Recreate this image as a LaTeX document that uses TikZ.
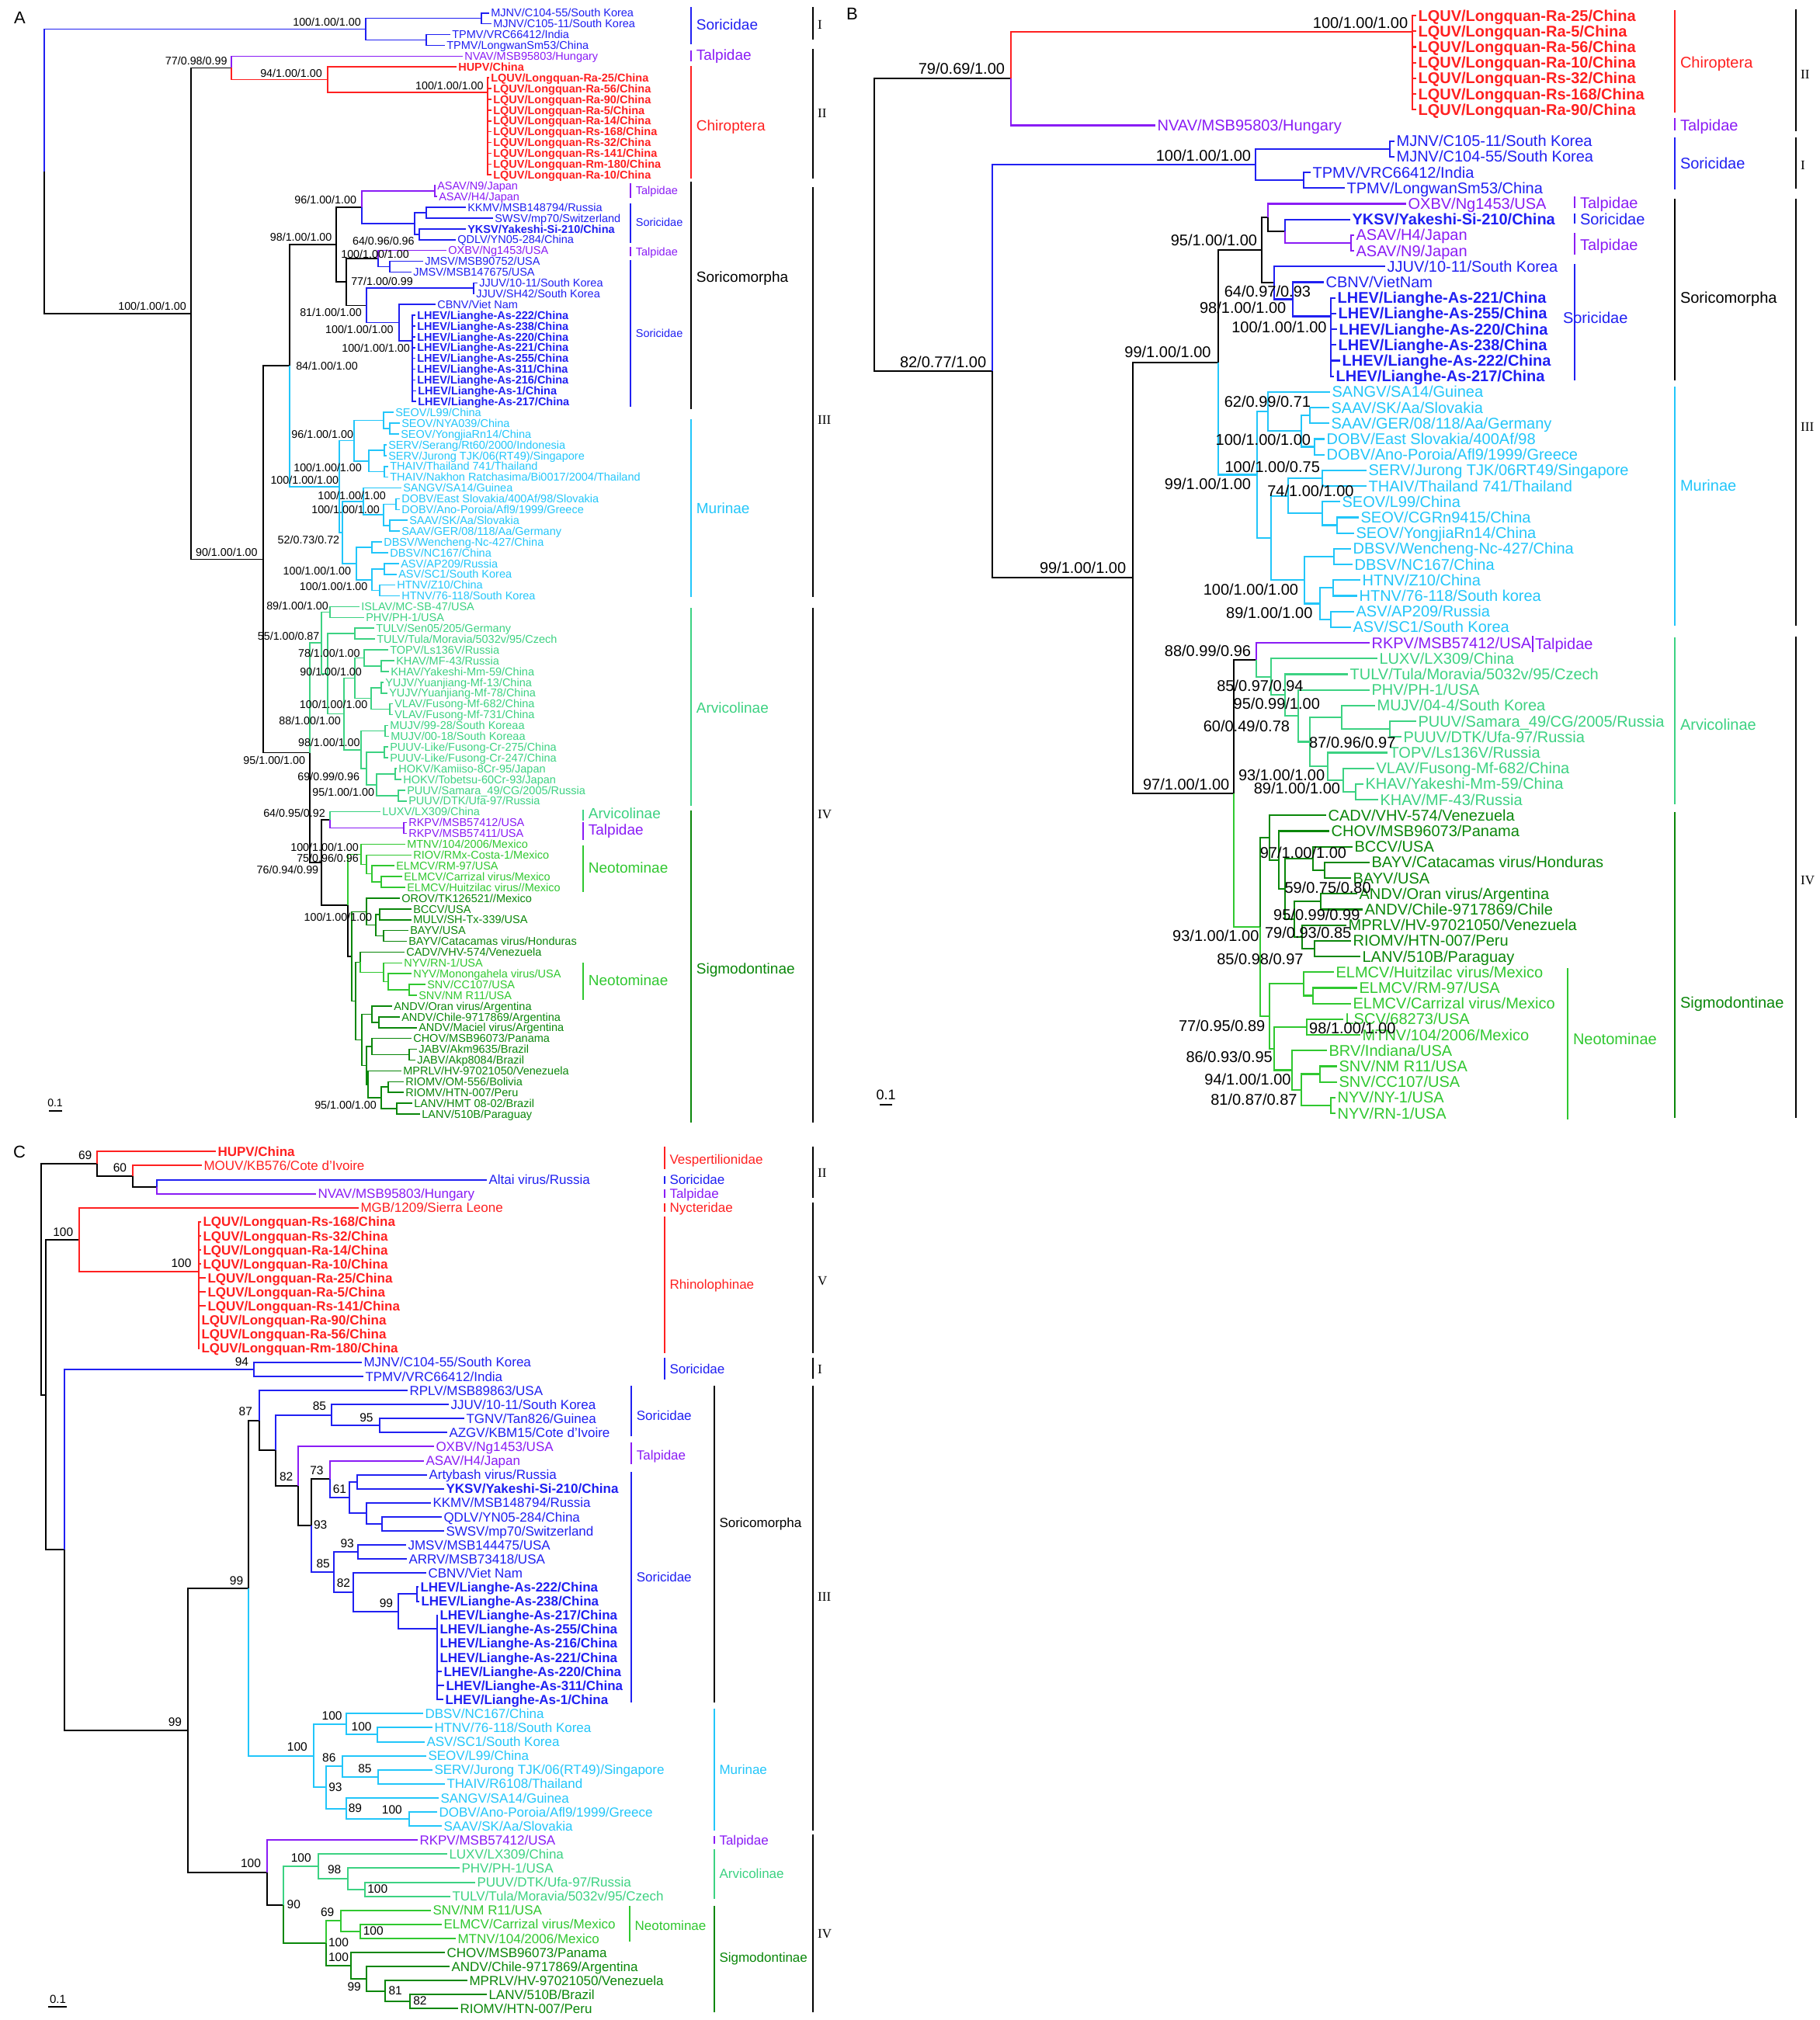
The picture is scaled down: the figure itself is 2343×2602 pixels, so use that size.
\documentclass[tikz,border=0pt]{standalone}
\usepackage{fontspec}
\setmainfont{Liberation Sans}
\newfontfamily\romfont{Liberation Serif}
\usetikzlibrary{calc}
\definecolor{csor}{HTML}{2020F2}
\definecolor{ctal}{HTML}{8A1CF5}
\definecolor{cchi}{HTML}{FF2020}
\definecolor{cmur}{HTML}{22C6FA}
\definecolor{carv}{HTML}{3CD282}
\definecolor{cneo}{HTML}{30C830}
\definecolor{csig}{HTML}{0A870A}
\colorlet{blk}{black}
\newcommand\fs[1]{\fontsize{#1}{#1}\selectfont}
\newcounter{lbn}
\newcommand\ed[3]{\draw[#1] (#2) |- (#3);}
\newcommand\eed[4]{\ed{#1}{#2}{#3}\ed{#1}{#2}{#4}}
\newcommand\tnd[4]{\path ($(#3)!0.5!(#4)$) coordinate (tmpm) (#2,0) coordinate (tmpx); \coordinate (#1) at (tmpm -| tmpx);}
\newcommand\tndm[3]{\coordinate (#1) at (#2,#3);}
\newcommand\lfa[4]{\coordinate (a#1) at (#2,{16.7+13.905*#1}); \node[leafA,#3] (a#1t) at (a#1) {#4};}
\newcommand\lfb[4]{\coordinate (b#1) at (#2,{20+20.2*#1}); \node[leafB,#3] (b#1t) at (b#1) {#4};}
\newcommand\lfc[4]{\coordinate (c#1) at (#2,{1483.3+18.1*#1}); \node[leafC,#3] (c#1t) at (c#1) {#4};}
\newcommand\spv[4]{\stepcounter{lbn}\node[#1] (s\thelbn) at (#2,#3) {#4};}
\newcommand\sa[3]{\spv{suppA}{#1}{#2}{#3}}
\newcommand\sbb[3]{\spv{suppB}{#1}{#2}{#3}}
\newcommand\scc[3]{\spv{suppC}{#1}{#2}{#3}}
\newcommand\cbar[7]{\stepcounter{lbn}\draw[#1] (#2,#3) -- (#2,#4); \node[#5,#1,anchor=west] (s\thelbn) at ({#2+6},#7) {#6};}
\newcommand\rbar[5]{\stepcounter{lbn}\draw[blk,line width=2.4pt] (#1,#2) -- (#1,#3); \node[rom,anchor=west] (s\thelbn) at ({#1+6},#4) {#5};}
\tikzset{
 leafA/.style={anchor=west,inner sep=1.5pt,font=\fs{14.5},text height=10.4pt,text depth=0pt},
 leafB/.style={anchor=west,inner sep=1.5pt,font=\fs{20},text height=14.3pt,text depth=0pt},
 leafC/.style={anchor=west,inner sep=1.5pt,font=\fs{17},text height=12.2pt,text depth=0pt},
 bA/.style={font=\fs{14.5}\bfseries},
 bB/.style={font=\fs{20}\bfseries},
 bC/.style={font=\fs{17}\bfseries},
 suppA/.style={anchor=east,inner sep=0pt,font=\fs{14.3},text height=10.2pt,text depth=0pt},
 suppB/.style={anchor=east,inner sep=0pt,font=\fs{20},text height=14.3pt,text depth=0pt},
 suppC/.style={anchor=east,inner sep=0pt,font=\fs{15.5},text height=11pt,text depth=0pt},
 cladeA/.style={inner sep=0pt,font=\fs{19},text height=13.6pt,text depth=0pt},
 cladeAs/.style={inner sep=0pt,font=\fs{14.5},text height=10.4pt,text depth=0pt},
 cladeB/.style={inner sep=0pt,font=\fs{20},text height=14.3pt,text depth=0pt},
 cladeC/.style={inner sep=0pt,font=\fs{17},text height=12.2pt,text depth=0pt},
 rom/.style={inner sep=0pt,font=\romfont\fs{17},text height=11pt,text depth=0pt},
 plab/.style={inner sep=0pt,anchor=west,font=\fs{22}},
}
\begin{document}
\begin{tikzpicture}[x=1pt,y=-1pt]
\useasboundingbox (0,0) rectangle (2343,2602);
\fill[white] (0,0) rectangle (2343,2602);

%%%%%%%%%%%%%%%%%%%%%%%%%%%% PANEL A
\node[plab] (pA) at (18,23) {A};
\begin{scope}[line width=1.6pt]
\lfa{0}{630}{csor}{MJNV/C104-55/South Korea}
\lfa{1}{633}{csor}{MJNV/C105-11/South Korea}
\lfa{2}{580}{csor}{TPMV/VRC66412/India}
\lfa{3}{573}{csor}{TPMV/LongwanSm53/China}
\lfa{4}{596}{ctal}{NVAV/MSB95803/Hungary}
\lfa{5}{588}{cchi,bA}{HUPV/China}
\lfa{6}{630}{cchi,bA}{LQUV/Longquan-Ra-25/China}
\lfa{7}{633}{cchi,bA}{LQUV/Longquan-Ra-56/China}
\lfa{8}{633}{cchi,bA}{LQUV/Longquan-Ra-90/China}
\lfa{9}{633}{cchi,bA}{LQUV/Longquan-Ra-5/China}
\lfa{10}{633}{cchi,bA}{LQUV/Longquan-Ra-14/China}
\lfa{11}{633}{cchi,bA}{LQUV/Longquan-Rs-168/China}
\lfa{12}{633}{cchi,bA}{LQUV/Longquan-Rs-32/China}
\lfa{13}{633}{cchi,bA}{LQUV/Longquan-Rs-141/China}
\lfa{14}{633}{cchi,bA}{LQUV/Longquan-Rm-180/China}
\lfa{15}{633}{cchi,bA}{LQUV/Longquan-Ra-10/China}
\lfa{16}{561}{ctal}{ASAV/N9/Japan}
\lfa{17}{563}{ctal}{ASAV/H4/Japan}
\lfa{18}{600}{csor}{KKMV/MSB148794/Russia}
\lfa{19}{635}{csor}{SWSV/mp70/Switzerland}
\lfa{20}{600}{csor,bA}{YKSV/Yakeshi-Si-210/China}
\lfa{21}{587}{csor}{QDLV/YN05-284/China}
\lfa{22}{575}{ctal}{OXBV/Ng1453/USA}
\lfa{23}{545}{csor}{JMSV/MSB90752/USA}
\lfa{24}{530}{csor}{JMSV/MSB147675/USA}
\lfa{25}{615}{csor}{JJUV/10-11/South Korea}
\lfa{26}{611}{csor}{JJUV/SH42/South Korea}
\lfa{27}{561}{csor}{CBNV/Viet Nam}
\lfa{28}{535}{csor,bA}{LHEV/Lianghe-As-222/China}
\lfa{29}{535}{csor,bA}{LHEV/Lianghe-As-238/China}
\lfa{30}{535}{csor,bA}{LHEV/Lianghe-As-220/China}
\lfa{31}{535}{csor,bA}{LHEV/Lianghe-As-221/China}
\lfa{32}{535}{csor,bA}{LHEV/Lianghe-As-255/China}
\lfa{33}{535}{csor,bA}{LHEV/Lianghe-As-311/China}
\lfa{34}{535}{csor,bA}{LHEV/Lianghe-As-216/China}
\lfa{35}{536}{csor,bA}{LHEV/Lianghe-As-1/China}
\lfa{36}{536}{csor,bA}{LHEV/Lianghe-As-217/China}
\lfa{37}{507}{cmur}{SEOV/L99/China}
\lfa{38}{515}{cmur}{SEOV/NYA039/China}
\lfa{39}{514}{cmur}{SEOV/YongjiaRn14/China}
\lfa{40}{498}{cmur}{SERV/Serang/Rt60/2000/Indonesia}
\lfa{41}{498}{cmur}{SERV/Jurong TJK/06(RT49)/Singapore}
\lfa{42}{500}{cmur}{THAIV/Thailand 741/Thailand}
\lfa{43}{500}{cmur}{THAIV/Nakhon Ratchasima/Bi0017/2004/Thailand}
\lfa{44}{517}{cmur}{SANGV/SA14/Guinea}
\lfa{45}{515}{cmur}{DOBV/East Slovakia/400Af/98/Slovakia}
\lfa{46}{515}{cmur}{DOBV/Ano-Poroia/Afl9/1999/Greece}
\lfa{47}{525}{cmur}{SAAV/SK/Aa/Slovakia}
\lfa{48}{515}{cmur}{SAAV/GER/08/118/Aa/Germany}
\lfa{49}{492}{cmur}{DBSV/Wencheng-Nc-427/China}
\lfa{50}{500}{cmur}{DBSV/NC167/China}
\lfa{51}{514}{cmur}{ASV/AP209/Russia}
\lfa{52}{511}{cmur}{ASV/SC1/South Korea}
\lfa{53}{509}{cmur}{HTNV/Z10/China}
\lfa{54}{515}{cmur}{HTNV/76-118/South Korea}
\lfa{55}{463}{carv}{ISLAV/MC-SB-47/USA}
\lfa{56}{469}{carv}{PHV/PH-1/USA}
\lfa{57}{482}{carv}{TULV/Sen05/205/Germany}
\lfa{58}{483}{carv}{TULV/Tula/Moravia/5032v/95/Czech}
\lfa{59}{500}{carv}{TOPV/Ls136V/Russia}
\lfa{60}{508}{carv}{KHAV/MF-43/Russia}
\lfa{61}{501}{carv}{KHAV/Yakeshi-Mm-59/China}
\lfa{62}{494}{carv}{YUJV/Yuanjiang-Mf-13/China}
\lfa{63}{499}{carv}{YUJV/Yuanjiang-Mf-78/China}
\lfa{64}{506}{carv}{VLAV/Fusong-Mf-682/China}
\lfa{65}{506}{carv}{VLAV/Fusong-Mf-731/China}
\lfa{66}{500}{carv}{MUJV/99-28/South Koreaa}
\lfa{67}{501}{carv}{MUJV/00-18/South Koreaa}
\lfa{68}{500}{carv}{PUUV-Like/Fusong-Cr-275/China}
\lfa{69}{500}{carv}{PUUV-Like/Fusong-Cr-247/China}
\lfa{70}{511}{carv}{HOKV/Kamiiso-8Cr-95/Japan}
\lfa{71}{517}{carv}{HOKV/Tobetsu-60Cr-93/Japan}
\lfa{72}{522}{carv}{PUUV/Samara\_49/CG/2005/Russia}
\lfa{73}{524}{carv}{PUUV/DTK/Ufa-97/Russia}
\lfa{74}{490}{carv}{LUXV/LX309/China}
\lfa{75}{524}{ctal}{RKPV/MSB57412/USA}
\lfa{76}{524}{ctal}{RKPV/MSB57411/USA}
\lfa{77}{522}{cneo}{MTNV/104/2006/Mexico}
\lfa{78}{530}{cneo}{RIOV/RMx-Costa-1/Mexico}
\lfa{79}{508}{cneo}{ELMCV/RM-97/USA}
\lfa{80}{518}{cneo}{ELMCV/Carrizal virus/Mexico}
\lfa{81}{522}{cneo}{ELMCV/Huitzilac virus//Mexico}
\lfa{82}{515}{csig}{OROV/TK126521//Mexico}
\lfa{83}{530}{csig}{BCCV/USA}
\lfa{84}{530}{csig}{MULV/SH-Tx-339/USA}
\lfa{85}{526}{csig}{BAYV/USA}
\lfa{86}{524}{csig}{BAYV/Catacamas virus/Honduras}
\lfa{87}{521}{csig}{CADV/VHV-574/Venezuela}
\lfa{88}{518}{cneo}{NYV/RN-1/USA}
\lfa{89}{530}{cneo}{NYV/Monongahela virus/USA}
\lfa{90}{548}{cneo}{SNV/CC107/USA}
\lfa{91}{537}{cneo}{SNV/NM R11/USA}
\lfa{92}{505}{csig}{ANDV/Oran virus/Argentina}
\lfa{93}{515}{csig}{ANDV/Chile-9717869/Argentina}
\lfa{94}{537}{csig}{ANDV/Maciel virus/Argentina}
\lfa{95}{530}{csig}{CHOV/MSB96073/Panama}
\lfa{96}{537}{csig}{JABV/Akm9635/Brazil}
\lfa{97}{535}{csig}{JABV/Akp8084/Brazil}
\lfa{98}{517}{csig}{MPRLV/HV-97021050/Venezuela}
\lfa{99}{520}{csig}{RIOMV/OM-556/Bolivia}
\lfa{100}{520}{csig}{RIOMV/HTN-007/Peru}
\lfa{101}{531}{csig}{LANV/HMT 08-02/Brazil}
\lfa{102}{541}{csig}{LANV/510B/Paraguay}
% internal nodes A
\tnd{aMJ}{620}{a0}{a1}
\tnd{aTP}{549}{a2}{a3}
\tnd{aI}{471}{aMJ}{aTP}
\tndm{aLQ}{628}{119}
\tnd{aChi}{422}{a5}{aLQ}
\tnd{aII}{298}{a4}{aChi}
\tnd{aAS}{560}{a16}{a17}
\tnd{aKS}{549}{a18}{a19}
\tnd{aYQ}{540}{a20}{a21}
\tnd{aSo1}{534}{aKS}{aYQ}
\tnd{aN96}{466}{aAS}{aSo1}
\tnd{aJM}{502}{a23}{a24}
\tnd{aN100}{487}{a22}{aJM}
\tnd{aJJ}{610}{a25}{a26}
\tndm{aLH}{531}{439}
\tnd{aCL}{514}{a27}{aLH}
\tnd{aN81}{472}{aJJ}{aCL}
\tnd{aN77}{446}{aN100}{aN81}
\tnd{aSor}{433}{aN96}{aN77}
\tnd{aSE2}{502}{a38}{a39}
\tnd{aSE}{494}{a37}{aSE2}
\tnd{aSR}{495}{a40}{a41}
\tnd{aTH}{495}{a42}{a43}
\tnd{aST}{475}{aSR}{aTH}
\tnd{aM1}{456}{aSE}{aST}
\tnd{aDO}{510}{a45}{a46}
\tnd{aSA}{502}{a47}{a48}
\tnd{aDS}{494}{aDO}{aSA}
\tnd{aSDS}{468}{a44}{aDS}
\tnd{aDB}{479}{a49}{a50}
\tnd{aASV}{495}{a51}{a52}
\tnd{aHT}{489}{a53}{a54}
\tnd{aAH}{479}{aASV}{aHT}
\tnd{aDAH}{459}{aDB}{aAH}
\tnd{aM2}{441}{aSDS}{aDAH}
\tnd{aM0}{437}{aM1}{aM2}
\tnd{aSM}{373}{aSor}{aM0}
\tnd{aIP}{425}{a55}{a56}
\tnd{aTU}{457}{a57}{a58}
\tnd{aKH}{491}{a60}{a61}
\tnd{aTK}{469}{a59}{aKH}
\tnd{aYU}{491}{a62}{a63}
\tnd{aVL}{502}{a64}{a65}
\tnd{aYV}{478}{aYU}{aVL}
\tnd{aN90}{457}{aTK}{aYV}
\tnd{aMU}{496}{a66}{a67}
\tnd{aPL}{495}{a68}{a69}
\tnd{aHO}{509}{a70}{a71}
\tnd{aPU}{513}{a72}{a73}
\tnd{aHP}{485}{aHO}{aPU}
\tnd{aN69}{472}{aPL}{aHP}
\tnd{aN98}{465}{aMU}{aN69}
\tnd{aA2}{443}{aN90}{aN98}
\tnd{aA1}{422}{aTU}{aA2}
\tnd{aA0}{414}{aIP}{aA1}
\tnd{aRK}{520}{a75}{a76}
\tnd{aLR}{425}{a74}{aRK}
\tnd{aE1}{491}{a80}{a81}
\tnd{aE2}{479}{a79}{aE1}
\tnd{aE3}{472}{a78}{aE2}
\tnd{aE4}{465}{a77}{aE3}
\tnd{aBM}{489}{a83}{a84}
\tnd{aBY}{494}{a85}{a86}
\tnd{aBMB}{484}{aBM}{aBY}
\tnd{aOG}{472}{a82}{aBMB}
\tnd{aSNV}{527}{a90}{a91}
\tnd{aNS2}{500}{a89}{aSNV}
\tnd{aNS1}{494}{a88}{aNS2}
\tnd{aCN}{464}{a87}{aNS1}
\tnd{aCM}{488}{a93}{a94}
\tnd{aAN}{479}{a92}{aCM}
\tnd{aJA}{527}{a96}{a97}
\tnd{aCJ}{479}{a95}{aJA}
\tnd{aRI}{500}{a99}{a100}
\tnd{aLA}{511}{a101}{a102}
\tnd{aRL}{491}{aRI}{aLA}
\tnd{aMRL}{474}{a98}{aRL}
\tnd{aCJM}{472}{aCJ}{aMRL}
\tnd{aAM}{466}{aAN}{aCJM}
\tnd{aS2}{458}{aCN}{aAM}
\tnd{aS}{453}{aOG}{aS2}
\tnd{aY}{448}{aE4}{aS}
\tnd{aX}{414}{aLR}{aY}
\tnd{aN95}{399}{aA0}{aX}
\tnd{aB2}{339}{aSM}{aN95}
\tnd{aB1}{246}{aII}{aB2}
\tnd{aR}{57}{aI}{aB1}
% edges A
\ed{csor}{aR}{aI}\ed{blk}{aR}{aB1}
\eed{csor}{aI}{aMJ}{aTP}\eed{csor}{aMJ}{a0}{a1}\eed{csor}{aTP}{a2}{a3}
\eed{blk}{aB1}{aII}{aB2}
\ed{ctal}{aII}{a4}\ed{cchi}{aII}{aChi}
\eed{cchi}{aChi}{a5}{aLQ}
\foreach \i in {6,...,15}{\ed{cchi}{aLQ}{a\i}}
\eed{blk}{aB2}{aSM}{aN95}
\ed{blk}{aSM}{aSor}\ed{cmur}{aSM}{aM0}
\eed{blk}{aSor}{aN96}{aN77}
\ed{ctal}{aN96}{aAS}\ed{csor}{aN96}{aSo1}
\eed{ctal}{aAS}{a16}{a17}
\eed{csor}{aSo1}{aKS}{aYQ}\eed{csor}{aKS}{a18}{a19}\eed{csor}{aYQ}{a20}{a21}
\eed{blk}{aN77}{aN100}{aN81}
\ed{ctal}{aN100}{a22}\ed{csor}{aN100}{aJM}\eed{csor}{aJM}{a23}{a24}
\eed{csor}{aN81}{aJJ}{aCL}\eed{csor}{aJJ}{a25}{a26}\eed{csor}{aCL}{a27}{aLH}
\foreach \i in {28,...,36}{\ed{csor}{aLH}{a\i}}
\eed{cmur}{aM0}{aM1}{aM2}\eed{cmur}{aM1}{aSE}{aST}\eed{cmur}{aSE}{a37}{aSE2}\eed{cmur}{aSE2}{a38}{a39}
\eed{cmur}{aST}{aSR}{aTH}\eed{cmur}{aSR}{a40}{a41}\eed{cmur}{aTH}{a42}{a43}
\eed{cmur}{aM2}{aSDS}{aDAH}\eed{cmur}{aSDS}{a44}{aDS}\eed{cmur}{aDS}{aDO}{aSA}\eed{cmur}{aDO}{a45}{a46}\eed{cmur}{aSA}{a47}{a48}
\eed{cmur}{aDAH}{aDB}{aAH}\eed{cmur}{aDB}{a49}{a50}\eed{cmur}{aAH}{aASV}{aHT}\eed{cmur}{aASV}{a51}{a52}\eed{cmur}{aHT}{a53}{a54}
\ed{carv}{aN95}{aA0}\ed{blk}{aN95}{aX}
\eed{carv}{aA0}{aIP}{aA1}\eed{carv}{aIP}{a55}{a56}\eed{carv}{aA1}{aTU}{aA2}\eed{carv}{aTU}{a57}{a58}
\eed{carv}{aA2}{aN90}{aN98}\eed{carv}{aN90}{aTK}{aYV}\eed{carv}{aTK}{a59}{aKH}\eed{carv}{aKH}{a60}{a61}
\eed{carv}{aYV}{aYU}{aVL}\eed{carv}{aYU}{a62}{a63}\eed{carv}{aVL}{a64}{a65}
\eed{carv}{aN98}{aMU}{aN69}\eed{carv}{aMU}{a66}{a67}\eed{carv}{aN69}{aPL}{aHP}\eed{carv}{aPL}{a68}{a69}
\eed{carv}{aHP}{aHO}{aPU}\eed{carv}{aHO}{a70}{a71}\eed{carv}{aPU}{a72}{a73}
\eed{blk}{aX}{aLR}{aY}\ed{carv}{aLR}{a74}\ed{ctal}{aLR}{aRK}\eed{ctal}{aRK}{a75}{a76}
\ed{cneo}{aY}{aE4}\ed{blk}{aY}{aS}
\eed{cneo}{aE4}{a77}{aE3}\eed{cneo}{aE3}{a78}{aE2}\eed{cneo}{aE2}{a79}{aE1}\eed{cneo}{aE1}{a80}{a81}
\eed{csig}{aS}{aOG}{aS2}\eed{csig}{aOG}{a82}{aBMB}\eed{csig}{aBMB}{aBM}{aBY}\eed{csig}{aBM}{a83}{a84}\eed{csig}{aBY}{a85}{a86}
\eed{csig}{aS2}{aCN}{aAM}\ed{csig}{aCN}{a87}\ed{cneo}{aCN}{aNS1}\eed{cneo}{aNS1}{a88}{aNS2}\eed{cneo}{aNS2}{a89}{aSNV}\eed{cneo}{aSNV}{a90}{a91}
\eed{csig}{aAM}{aAN}{aCJM}\eed{csig}{aAN}{a92}{aCM}\eed{csig}{aCM}{a93}{a94}
\eed{csig}{aCJM}{aCJ}{aMRL}\eed{csig}{aCJ}{a95}{aJA}\eed{csig}{aJA}{a96}{a97}
\eed{csig}{aMRL}{a98}{aRL}\eed{csig}{aRL}{aRI}{aLA}\eed{csig}{aRI}{a99}{a100}\eed{csig}{aLA}{a101}{a102}
\end{scope}
% support A
\sa{465}{28.3}{100/1.00/1.00}
\sa{292.7}{78.3}{77/0.98/0.99}
\sa{415}{94}{94/1.00/1.00}
\sa{622.8}{110}{100/1.00/1.00}
\sa{459.2}{257.7}{96/1.00/1.00}
\sa{427.6}{305}{98/1.00/1.00}
\sa{533.8}{310}{64/0.96/0.96}
\sa{527}{327.3}{100/1.00/1.00}
\sa{532}{362.7}{77/1.00/0.99}
\sa{240}{394}{100/1.00/1.00}
\sa{466}{402.3}{81/1.00/1.00}
\sa{506.8}{424.3}{100/1.00/1.00}
\sa{528}{448.3}{100/1.00/1.00}
\sa{461}{471}{84/1.00/1.00}
\sa{455.2}{559}{96/1.00/1.00}
\sa{466}{602.7}{100/1.00/1.00}
\sa{436.2}{618.3}{100/1.00/1.00}
\sa{497}{638.3}{100/1.00/1.00}
\sa{489}{656.7}{100/1.00/1.00}
\sa{437.4}{695}{52/0.73/0.72}
\sa{331.8}{711.7}{90/1.00/1.00}
\sa{452.3}{735}{100/1.00/1.00}
\sa{473.6}{755.7}{100/1.00/1.00}
\sa{423}{780.7}{89/1.00/1.00}
\sa{411.6}{819}{55/1.00/0.87}
\sa{463.8}{841}{78/1.00/1.00}
\sa{466.1}{865.7}{90/1.00/1.00}
\sa{473.6}{907.3}{100/1.00/1.00}
\sa{439.1}{928.3}{88/1.00/1.00}
\sa{463.8}{956.7}{98/1.00/1.00}
\sa{393.2}{979.3}{95/1.00/1.00}
\sa{463.2}{1000}{69/0.99/0.96}
\sa{482.2}{1020}{95/1.00/1.00}
\sa{419}{1047.7}{64/0.95/0.92}
\sa{462}{1091.7}{100/1.00/1.00}
\sa{462}{1105.7}{75/0.96/0.96}
\sa{410.4}{1120}{76/0.94/0.99}
\sa{479.3}{1181.7}{100/1.00/1.00}
\sa{485}{1423.3}{95/1.00/1.00}
% clade bars A
\begin{scope}[line width=1.8pt]
\cbar{csor}{890}{9}{57}{cladeA}{Soricidae}{32}
\cbar{ctal}{890}{65}{79}{cladeA}{Talpidae}{71}
\cbar{cchi}{890}{85}{230}{cladeA}{Chiroptera}{162}
\cbar{blk}{890}{234}{527}{cladeA}{Soricomorpha}{357}
\cbar{cmur}{890}{540}{769}{cladeA}{Murinae}{655}
\cbar{carv}{890}{783}{1038}{cladeA}{Arvicolinae}{912}
\cbar{csig}{890}{1044}{1446}{cladeA}{Sigmodontinae}{1248}
\cbar{ctal}{812}{236}{255}{cladeAs}{Talpidae}{245}
\cbar{csor}{812}{262}{313}{cladeAs}{Soricidae}{286}
\cbar{ctal}{812}{318}{330}{cladeAs}{Talpidae}{324}
\cbar{csor}{812}{335}{524}{cladeAs}{Soricidae}{429}
\cbar{carv}{751}{1043}{1057}{cladeA}{Arvicolinae}{1048}
\cbar{ctal}{751}{1059}{1082}{cladeA}{Talpidae}{1069}
\cbar{cneo}{751}{1089}{1149}{cladeA}{Neotominae}{1118}
\cbar{cneo}{751}{1240}{1288}{cladeA}{Neotominae}{1263}
\end{scope}
\rbar{1047}{9}{51}{32}{I}
\rbar{1047}{63}{230}{146}{II}
\rbar{1047}{241}{769}{541}{III}
\rbar{1047}{783}{1446}{1049}{IV}
\node[font=\fs{14},inner sep=0pt] (scA) at (71,1421) {0.1};
\coordinate (scA1) at (63,1431); \coordinate (scA2) at (80,1431);
\draw[line width=1.5pt] (scA1) -- (scA2);

%%%%%%%%%%%%%%%%%%%%%%%%%%%% PANEL B
\node[plab] (pB) at (1090,18) {B};
\begin{scope}[line width=2.2pt]
\lfb{0}{1824}{cchi,bB}{LQUV/Longquan-Ra-25/China}
\lfb{1}{1824}{cchi,bB}{LQUV/Longquan-Ra-5/China}
\lfb{2}{1824}{cchi,bB}{LQUV/Longquan-Ra-56/China}
\lfb{3}{1824}{cchi,bB}{LQUV/Longquan-Ra-10/China}
\lfb{4}{1824}{cchi,bB}{LQUV/Longquan-Rs-32/China}
\lfb{5}{1824}{cchi,bB}{LQUV/Longquan-Rs-168/China}
\lfb{6}{1824}{cchi,bB}{LQUV/Longquan-Ra-90/China}
\lfb{7}{1488}{ctal}{NVAV/MSB95803/Hungary}
\lfb{8}{1796}{csor}{MJNV/C105-11/South Korea}
\lfb{9}{1796}{csor}{MJNV/C104-55/South Korea}
\lfb{10}{1688}{csor}{TPMV/VRC66412/India}
\lfb{11}{1732}{csor}{TPMV/LongwanSm53/China}
\lfb{12}{1811}{ctal}{OXBV/Ng1453/USA}
\lfb{13}{1739}{csor,bB}{YKSV/Yakeshi-Si-210/China}
\lfb{14}{1744}{ctal}{ASAV/H4/Japan}
\lfb{15}{1744}{ctal}{ASAV/N9/Japan}
\lfb{16}{1784}{csor}{JJUV/10-11/South Korea}
\lfb{17}{1705}{csor}{CBNV/VietNam}
\lfb{18}{1720}{csor,bB}{LHEV/Lianghe-As-221/China}
\lfb{19}{1721}{csor,bB}{LHEV/Lianghe-As-255/China}
\lfb{20}{1722}{csor,bB}{LHEV/Lianghe-As-220/China}
\lfb{21}{1721}{csor,bB}{LHEV/Lianghe-As-238/China}
\lfb{22}{1726}{csor,bB}{LHEV/Lianghe-As-222/China}
\lfb{23}{1718}{csor,bB}{LHEV/Lianghe-As-217/China}
\lfb{24}{1713}{cmur}{SANGV/SA14/Guinea}
\lfb{25}{1712}{cmur}{SAAV/SK/Aa/Slovakia}
\lfb{26}{1712}{cmur}{SAAV/GER/08/118/Aa/Germany}
\lfb{27}{1706}{cmur}{DOBV/East Slovakia/400Af/98}
\lfb{28}{1706}{cmur}{DOBV/Ano-Poroia/Afl9/1999/Greece}
\lfb{29}{1760}{cmur}{SERV/Jurong TJK/06RT49/Singapore}
\lfb{30}{1760}{cmur}{THAIV/Thailand 741/Thailand}
\lfb{31}{1726}{cmur}{SEOV/L99/China}
\lfb{32}{1750}{cmur}{SEOV/CGRn9415/China}
\lfb{33}{1744}{cmur}{SEOV/YongjiaRn14/China}
\lfb{34}{1740}{cmur}{DBSV/Wencheng-Nc-427/China}
\lfb{35}{1742}{cmur}{DBSV/NC167/China}
\lfb{36}{1752}{cmur}{HTNV/Z10/China}
\lfb{37}{1748}{cmur}{HTNV/76-118/South korea}
\lfb{38}{1744}{cmur}{ASV/AP209/Russia}
\lfb{39}{1740}{cmur}{ASV/SC1/South Korea}
\lfb{40}{1764}{ctal}{RKPV/MSB57412/USA}
\lfb{41}{1774}{carv}{LUXV/LX309/China}
\lfb{42}{1736}{carv}{TULV/Tula/Moravia/5032v/95/Czech}
\lfb{43}{1764}{carv}{PHV/PH-1/USA}
\lfb{44}{1771}{carv}{MUJV/04-4/South Korea}
\lfb{45}{1824}{carv}{PUUV/Samara\_49/CG/2005/Russia}
\lfb{46}{1805}{carv}{PUUV/DTK/Ufa-97/Russia}
\lfb{47}{1787}{carv}{TOPV/Ls136V/Russia}
\lfb{48}{1770}{carv}{VLAV/Fusong-Mf-682/China}
\lfb{49}{1756}{carv}{KHAV/Yakeshi-Mm-59/China}
\lfb{50}{1775}{carv}{KHAV/MF-43/Russia}
\lfb{51}{1708}{csig}{CADV/VHV-574/Venezuela}
\lfb{52}{1712}{csig}{CHOV/MSB96073/Panama}
\lfb{53}{1742}{csig}{BCCV/USA}
\lfb{54}{1764}{csig}{BAYV/Catacamas virus/Honduras}
\lfb{55}{1740}{csig}{BAYV/USA}
\lfb{56}{1748}{csig}{ANDV/Oran virus/Argentina}
\lfb{57}{1755}{csig}{ANDV/Chile-9717869/Chile}
\lfb{58}{1734}{csig}{MPRLV/HV-97021050/Venezuela}
\lfb{59}{1740}{csig}{RIOMV/HTN-007/Peru}
\lfb{60}{1752}{csig}{LANV/510B/Paraguay}
\lfb{61}{1718}{cneo}{ELMCV/Huitzilac virus/Mexico}
\lfb{62}{1748}{cneo}{ELMCV/RM-97/USA}
\lfb{63}{1740}{cneo}{ELMCV/Carrizal virus/Mexico}
\lfb{64}{1730}{cneo}{LSCV/68273/USA}
\lfb{65}{1752}{cneo}{MTNV/104/2006/Mexico}
\lfb{66}{1709}{cneo}{BRV/Indiana/USA}
\lfb{67}{1722}{cneo}{SNV/NM R11/USA}
\lfb{68}{1722}{cneo}{SNV/CC107/USA}
\lfb{69}{1720}{cneo}{NYV/NY-1/USA}
\lfb{70}{1720}{cneo}{NYV/RN-1/USA}
% internal B
\tndm{bLQ}{1819}{40.7}
\tnd{bT}{1302}{bLQ}{b7}
\tnd{bMJ}{1790}{b8}{b9}
\tnd{bTP}{1679}{b10}{b11}
\tnd{bI}{1617}{bMJ}{bTP}
\tnd{bAS}{1740}{b14}{b15}
\tnd{bYA}{1655}{b13}{bAS}
\tnd{bTa}{1633}{b12}{bYA}
\tndm{bLH}{1714}{407.4}
\tnd{bCL}{1665}{b17}{bLH}
\tnd{bJ}{1641}{b16}{bCL}
\tnd{bSo}{1625}{bTa}{bJ}
\tnd{bSA}{1687}{b25}{b26}
\tnd{bDO}{1693}{b27}{b28}
\tnd{bSD}{1676}{bSA}{bDO}
\tnd{bSSD}{1633}{b24}{bSD}
\tnd{bST}{1703}{b29}{b30}
\tnd{bSE2}{1722}{b32}{b33}
\tnd{bSE}{1703}{b31}{bSE2}
\tnd{bSTS}{1659}{bST}{bSE}
\tnd{bDB}{1718}{b34}{b35}
\tnd{bHT}{1717}{b36}{b37}
\tnd{bASV}{1714}{b38}{b39}
\tnd{bHA}{1700}{bHT}{bASV}
\tnd{bDHA}{1680}{bDB}{bHA}
\tnd{bML}{1637}{bSTS}{bDHA}
\tnd{bMu}{1619}{bSSD}{bML}
\tnd{bW}{1569}{bSo}{bMu}
\tnd{bPU}{1790}{b45}{b46}
\tnd{bMP}{1728}{b44}{bPU}
\tnd{bKH}{1746}{b49}{b50}
\tnd{bVK}{1730}{b48}{bKH}
\tnd{bTVK}{1710}{b47}{bVK}
\tnd{bA4}{1687}{bMP}{bTVK}
\tnd{bA3}{1672}{b43}{bA4}
\tnd{bA2}{1655}{b42}{bA3}
\tnd{bA}{1637}{b41}{bA2}
\tnd{bR}{1618}{b40}{bA}
\tnd{bBY}{1706}{b54}{b55}
\tnd{bBB}{1691}{b53}{bBY}
\tnd{bAN}{1701}{b56}{b57}
\tnd{bRL}{1693}{b59}{b60}
\tnd{bMRL}{1677}{b58}{bRL}
\tnd{bAMRL}{1667}{bAN}{bMRL}
\tnd{bSG3}{1655}{bBB}{bAMRL}
\tnd{bSG2}{1647}{b52}{bSG3}
\tnd{bSG}{1635}{b51}{bSG2}
\tnd{bEL2}{1691}{b62}{b63}
\tnd{bEL}{1679}{b61}{bEL2}
\tnd{bLM}{1683}{b64}{b65}
\tnd{bSNV}{1700}{b67}{b68}
\tnd{bNYV}{1714}{b69}{b70}
\tnd{bSN}{1676}{bSNV}{bNYV}
\tnd{bBSN}{1664}{b66}{bSN}
\tnd{bLB}{1641}{bLM}{bBSN}
\tnd{bNE}{1635}{bEL}{bLB}
\tnd{bQ}{1623}{bSG}{bNE}
\tnd{bZ}{1589}{bR}{bQ}
\tnd{bV}{1459}{bW}{bZ}
\tnd{bU}{1278}{bI}{bV}
\tnd{bRoot}{1126}{bT}{bU}
% edges B
\ed{blk}{bRoot}{bT}\ed{blk}{bRoot}{bU}
\ed{cchi}{bT}{bLQ}\ed{ctal}{bT}{b7}
\foreach \i in {0,...,6}{\ed{cchi}{bLQ}{b\i}}
\ed{csor}{bU}{bI}\ed{blk}{bU}{bV}
\eed{csor}{bI}{bMJ}{bTP}\eed{csor}{bMJ}{b8}{b9}\eed{csor}{bTP}{b10}{b11}
\eed{blk}{bV}{bW}{bZ}
\ed{blk}{bW}{bSo}\ed{cmur}{bW}{bMu}
\eed{blk}{bSo}{bTa}{bJ}
\ed{ctal}{bTa}{b12}\ed{blk}{bTa}{bYA}\ed{csor}{bYA}{b13}\ed{ctal}{bYA}{bAS}\eed{ctal}{bAS}{b14}{b15}
\eed{csor}{bJ}{b16}{bCL}\eed{csor}{bCL}{b17}{bLH}
\foreach \i in {18,...,23}{\ed{csor}{bLH}{b\i}}
\eed{cmur}{bMu}{bSSD}{bML}\eed{cmur}{bSSD}{b24}{bSD}\eed{cmur}{bSD}{bSA}{bDO}\eed{cmur}{bSA}{b25}{b26}\eed{cmur}{bDO}{b27}{b28}
\eed{cmur}{bML}{bSTS}{bDHA}\eed{cmur}{bSTS}{bST}{bSE}\eed{cmur}{bST}{b29}{b30}\eed{cmur}{bSE}{b31}{bSE2}\eed{cmur}{bSE2}{b32}{b33}
\eed{cmur}{bDHA}{bDB}{bHA}\eed{cmur}{bDB}{b34}{b35}\eed{cmur}{bHA}{bHT}{bASV}\eed{cmur}{bHT}{b36}{b37}\eed{cmur}{bASV}{b38}{b39}
\ed{blk}{bZ}{bR}\ed{cneo}{bZ}{bQ}
\ed{ctal}{bR}{b40}\ed{carv}{bR}{bA}
\eed{carv}{bA}{b41}{bA2}\eed{carv}{bA2}{b42}{bA3}\eed{carv}{bA3}{b43}{bA4}\eed{carv}{bA4}{bMP}{bTVK}
\eed{carv}{bMP}{b44}{bPU}\eed{carv}{bPU}{b45}{b46}\eed{carv}{bTVK}{b47}{bVK}\eed{carv}{bVK}{b48}{bKH}\eed{carv}{bKH}{b49}{b50}
\ed{csig}{bQ}{bSG}\ed{cneo}{bQ}{bNE}
\eed{csig}{bSG}{b51}{bSG2}\eed{csig}{bSG2}{b52}{bSG3}\eed{csig}{bSG3}{bBB}{bAMRL}\eed{csig}{bBB}{b53}{bBY}\eed{csig}{bBY}{b54}{b55}
\eed{csig}{bAMRL}{bAN}{bMRL}\eed{csig}{bAN}{b56}{b57}\eed{csig}{bMRL}{b58}{bRL}\eed{csig}{bRL}{b59}{b60}
\eed{cneo}{bNE}{bEL}{bLB}\eed{cneo}{bEL}{b61}{bEL2}\eed{cneo}{bEL2}{b62}{b63}\eed{cneo}{bLB}{bLM}{bBSN}\eed{cneo}{bLM}{b64}{b65}
\eed{cneo}{bBSN}{b66}{bSN}\eed{cneo}{bSN}{bSNV}{bNYV}\eed{cneo}{bSNV}{b67}{b68}\eed{cneo}{bNYV}{b69}{b70}
\end{scope}
% support B
\sbb{1813.4}{29.3}{100/1.00/1.00}
\sbb{1294.2}{88.3}{79/0.69/1.00}
\sbb{1611.3}{200}{100/1.00/1.00}
\sbb{1619.2}{309.3}{95/1.00/1.00}
\sbb{1688.2}{375}{64/0.97/0.93}
\sbb{1656.5}{396.7}{98/1.00/1.00}
\sbb{1708.8}{421}{100/1.00/1.00}
\sbb{1559.8}{453.3}{99/1.00/1.00}
\sbb{1270.4}{466}{82/0.77/1.00}
\sbb{1688.2}{517.3}{62/0.99/0.71}
\sbb{1688.2}{566}{100/1.00/1.00}
\sbb{1700.1}{601.7}{100/1.00/0.75}
\sbb{1611.3}{623.3}{99/1.00/1.00}
\sbb{1743.7}{632.7}{74/1.00/1.00}
\sbb{1450.4}{731.7}{99/1.00/1.00}
\sbb{1672.3}{759.3}{100/1.00/1.00}
\sbb{1690.6}{789.3}{89/1.00/1.00}
\sbb{1611.3}{838.3}{88/0.99/0.96}
\sbb{1678.7}{883.3}{85/0.97/0.94}
\sbb{1700.1}{906.7}{95/0.99/1.00}
\sbb{1661.2}{935}{60/0.49/0.78}
\sbb{1797.6}{956.7}{87/0.96/0.97}
\sbb{1706.4}{998.3}{93/1.00/1.00}
\sbb{1583.5}{1010.7}{97/1.00/1.00}
\sbb{1726.2}{1015.7}{89/1.00/1.00}
\sbb{1734.2}{1098.3}{97/1.00/1.00}
\sbb{1765.9}{1143.3}{59/0.75/0.80}
\sbb{1751.6}{1178.3}{95/0.99/0.99}
\sbb{1621.6}{1205}{93/1.00/1.00}
\sbb{1740.5}{1201.7}{79/0.93/0.85}
\sbb{1678.7}{1235}{85/0.98/0.97}
\sbb{1629.5}{1321.7}{77/0.95/0.89}
\sbb{1797.6}{1324.3}{98/1.00/1.00}
\sbb{1639}{1361.7}{86/0.93/0.95}
\sbb{1662.8}{1390}{94/1.00/1.00}
\sbb{1670.7}{1416.7}{81/0.87/0.87}
% clade bars B
\begin{scope}[line width=2pt]
\cbar{cchi}{2157}{13}{145}{cladeB}{Chiroptera}{80}
\cbar{ctal}{2157}{152}{168}{cladeB}{Talpidae}{161}
\cbar{csor}{2157}{177}{244}{cladeB}{Soricidae}{210}
\cbar{blk}{2157}{256}{490}{cladeB}{Soricomorpha}{383}
\cbar{cmur}{2157}{498}{806}{cladeB}{Murinae}{625}
\cbar{carv}{2157}{821}{1036}{cladeB}{Arvicolinae}{933}
\cbar{csig}{2157}{1046}{1440}{cladeB}{Sigmodontinae}{1291}
\cbar{ctal}{2028}{253}{268}{cladeB}{Talpidae}{261}
\cbar{csor}{2028}{275}{288}{cladeB}{Soricidae}{282}
\cbar{ctal}{2028}{300}{328}{cladeB}{Talpidae}{315}
\draw[csor] (2028,340) -- (2028,490);
\node[cladeB,csor,anchor=west] (sBsor) at (2012,409) {Soricidae};
\draw[ctal] (1974,819) -- (1974,840);
\node[cladeB,ctal,anchor=west] (sBtal) at (1976,829) {Talpidae};
\cbar{cneo}{2019}{1247}{1442}{cladeB}{Neotominae}{1338}
\end{scope}
\rbar{2313}{12}{169}{96}{II}
\rbar{2313}{177}{243}{213}{I}
\rbar{2313}{256}{806}{550}{III}
\rbar{2313}{820}{1440}{1134}{IV}
\node[font=\fs{18},inner sep=0pt] (scB) at (1141,1410) {0.1};
\coordinate (scB1) at (1133,1423); \coordinate (scB2) at (1149,1423);
\draw[line width=2pt] (scB1) -- (scB2);

%%%%%%%%%%%%%%%%%%%%%%%%%%%% PANEL C
\node[plab] (pC) at (17,1484) {C};
\begin{scope}[line width=2pt]
\lfc{0}{278}{cchi,bC}{HUPV/China}
\lfc{1}{260}{cchi}{MOUV/KB576/Cote d'Ivoire}
\lfc{2}{627}{csor}{Altai virus/Russia}
\lfc{3}{407}{ctal}{NVAV/MSB95803/Hungary}
\lfc{4}{462}{cchi}{MGB/1209/Sierra Leone}
\lfc{5}{259}{cchi,bC}{LQUV/Longquan-Rs-168/China}
\lfc{6}{259}{cchi,bC}{LQUV/Longquan-Rs-32/China}
\lfc{7}{259}{cchi,bC}{LQUV/Longquan-Ra-14/China}
\lfc{8}{259}{cchi,bC}{LQUV/Longquan-Ra-10/China}
\lfc{9}{265}{cchi,bC}{LQUV/Longquan-Ra-25/China}
\lfc{10}{265}{cchi,bC}{LQUV/Longquan-Ra-5/China}
\lfc{11}{265}{cchi,bC}{LQUV/Longquan-Rs-141/China}
\lfc{12}{257}{cchi,bC}{LQUV/Longquan-Ra-90/China}
\lfc{13}{257}{cchi,bC}{LQUV/Longquan-Ra-56/China}
\lfc{14}{257}{cchi,bC}{LQUV/Longquan-Rm-180/China}
\lfc{15}{466}{csor}{MJNV/C104-55/South Korea}
\lfc{16}{468}{csor}{TPMV/VRC66412/India}
\lfc{17}{525}{csor}{RPLV/MSB89863/USA}
\lfc{18}{578}{csor}{JJUV/10-11/South Korea}
\lfc{19}{598}{csor}{TGNV/Tan826/Guinea}
\lfc{20}{576}{csor}{AZGV/KBM15/Cote d'Ivoire}
\lfc{21}{559}{ctal}{OXBV/Ng1453/USA}
\lfc{22}{546}{ctal}{ASAV/H4/Japan}
\lfc{23}{550}{csor}{Artybash virus/Russia}
\lfc{24}{572}{csor,bC}{YKSV/Yakeshi-Si-210/China}
\lfc{25}{555}{csor}{KKMV/MSB148794/Russia}
\lfc{26}{569}{csor}{QDLV/YN05-284/China}
\lfc{27}{572}{csor}{SWSV/mp70/Switzerland}
\lfc{28}{523}{csor}{JMSV/MSB144475/USA}
\lfc{29}{524}{csor}{ARRV/MSB73418/USA}
\lfc{30}{549}{csor}{CBNV/Viet Nam}
\lfc{31}{539}{csor,bC}{LHEV/Lianghe-As-222/China}
\lfc{32}{540}{csor,bC}{LHEV/Lianghe-As-238/China}
\lfc{33}{564}{csor,bC}{LHEV/Lianghe-As-217/China}
\lfc{34}{564}{csor,bC}{LHEV/Lianghe-As-255/China}
\lfc{35}{564}{csor,bC}{LHEV/Lianghe-As-216/China}
\lfc{36}{564}{csor,bC}{LHEV/Lianghe-As-221/China}
\lfc{37}{569}{csor,bC}{LHEV/Lianghe-As-220/China}
\lfc{38}{572}{csor,bC}{LHEV/Lianghe-As-311/China}
\lfc{39}{571}{csor,bC}{LHEV/Lianghe-As-1/China}
\lfc{40}{545}{cmur}{DBSV/NC167/China}
\lfc{41}{557}{cmur}{HTNV/76-118/South Korea}
\lfc{42}{547}{cmur}{ASV/SC1/South Korea}
\lfc{43}{549}{cmur}{SEOV/L99/China}
\lfc{44}{557}{cmur}{SERV/Jurong TJK/06(RT49)/Singapore}
\lfc{45}{573}{cmur}{THAIV/R6108/Thailand}
\lfc{46}{565}{cmur}{SANGV/SA14/Guinea}
\lfc{47}{563}{cmur}{DOBV/Ano-Poroia/Afl9/1999/Greece}
\lfc{48}{569}{cmur}{SAAV/SK/Aa/Slovakia}
\lfc{49}{538}{ctal}{RKPV/MSB57412/USA}
\lfc{50}{576}{carv}{LUXV/LX309/China}
\lfc{51}{592}{carv}{PHV/PH-1/USA}
\lfc{52}{612}{carv}{PUUV/DTK/Ufa-97/Russia}
\lfc{53}{580}{carv}{TULV/Tula/Moravia/5032v/95/Czech}
\lfc{54}{555}{cneo}{SNV/NM R11/USA}
\lfc{55}{569}{cneo}{ELMCV/Carrizal virus/Mexico}
\lfc{56}{587}{cneo}{MTNV/104/2006/Mexico}
\lfc{57}{573}{csig}{CHOV/MSB96073/Panama}
\lfc{58}{579}{csig}{ANDV/Chile-9717869/Argentina}
\lfc{59}{602}{csig}{MPRLV/HV-97021050/Venezuela}
\lfc{60}{627}{csig}{LANV/510B/Brazil}
\lfc{61}{590}{csig}{RIOMV/HTN-007/Peru}
% internal C
\tnd{cAN}{202}{c2}{c3}
\tnd{cN60}{171}{c1}{cAN}
\tnd{cN69}{125}{c0}{cN60}
\tndm{cLQ}{256}{1638.3}
\tnd{cV}{102}{c4}{cLQ}
\tnd{cI}{327}{c15}{c16}
\tnd{cTA}{489}{c19}{c20}
\tnd{cJTA}{427}{c18}{cTA}
\tnd{cAY}{460}{c23}{c24}
\tnd{cQS}{492}{c26}{c27}
\tnd{cKQS}{472}{c25}{cQS}
\tnd{cN61}{450}{cAY}{cKQS}
\tnd{cN73}{425}{c22}{cN61}
\tnd{cJA}{461}{c28}{c29}
\tnd{cLH1}{537}{c31}{c32}
\tndm{cLH2}{563}{2097.5}
\tnd{cN99c}{513}{cLH1}{cLH2}
\tnd{cN82c}{455}{c30}{cN99c}
\tnd{cN85}{430}{cJA}{cN82c}
\tnd{cN93}{401}{cN73}{cN85}
\tnd{cS82b}{384}{c21}{cN93}
\tnd{cS82}{355}{cJTA}{cS82b}
\tnd{cN87}{334}{c17}{cS82}
\tnd{cHA}{486}{c41}{c42}
\tnd{cDHA}{446}{c40}{cHA}
\tnd{cST}{487}{c44}{c45}
\tnd{cSST}{441}{c43}{cST}
\tnd{cDS}{527}{c47}{c48}
\tnd{cSDS}{446}{c46}{cDS}
\tnd{cSSTS}{420}{cSST}{cSDS}
\tnd{cMur}{404}{cDHA}{cSSTS}
\tnd{cN99b}{320}{cN87}{cMur}
\tnd{cPT}{470}{c52}{c53}
\tnd{cN98}{448}{c51}{cPT}
\tnd{cArv}{410}{c50}{cN98}
\tnd{cEM}{464}{c55}{c56}
\tnd{cN69c}{439}{c54}{cEM}
\tnd{cLR}{528}{c60}{c61}
\tnd{cN81}{496}{c59}{cLR}
\tnd{cN99s}{472}{c58}{cN81}
\tnd{cN100s}{452}{c57}{cN99s}
\tnd{cSig}{420}{cN69c}{cN100s}
\tnd{cN90}{365}{cArv}{cSig}
\tnd{cN100iv}{344}{c49}{cN90}
\tnd{cN99a}{242}{cN99b}{cN100iv}
\tnd{cL}{83}{cI}{cN99a}
\tnd{cRR}{58.5}{cV}{cL}
\tnd{cR}{53}{cN69}{cRR}
% edges C
\ed{blk}{cR}{cN69}\ed{blk}{cR}{cRR}
\ed{cchi}{cN69}{c0}\ed{blk}{cN69}{cN60}\ed{cchi}{cN60}{c1}\ed{blk}{cN60}{cAN}\ed{csor}{cAN}{c2}\ed{ctal}{cAN}{c3}
\ed{blk}{cRR}{cV}\ed{blk}{cRR}{cL}
\ed{cchi}{cV}{c4}\ed{cchi}{cV}{cLQ}
\foreach \i in {5,...,14}{\ed{cchi}{cLQ}{c\i}}
\ed{csor}{cL}{cI}\ed{blk}{cL}{cN99a}\eed{csor}{cI}{c15}{c16}
\eed{blk}{cN99a}{cN99b}{cN100iv}
\ed{blk}{cN99b}{cN87}\ed{cmur}{cN99b}{cMur}
\ed{csor}{cN87}{c17}\ed{blk}{cN87}{cS82}
\ed{csor}{cS82}{cJTA}\ed{blk}{cS82}{cS82b}
\eed{csor}{cJTA}{c18}{cTA}\eed{csor}{cTA}{c19}{c20}
\ed{ctal}{cS82b}{c21}\ed{blk}{cS82b}{cN93}
\ed{blk}{cN93}{cN73}\ed{csor}{cN93}{cN85}
\ed{ctal}{cN73}{c22}\ed{csor}{cN73}{cN61}
\eed{csor}{cN61}{cAY}{cKQS}\eed{csor}{cAY}{c23}{c24}\eed{csor}{cKQS}{c25}{cQS}\eed{csor}{cQS}{c26}{c27}
\eed{csor}{cN85}{cJA}{cN82c}\eed{csor}{cJA}{c28}{c29}\eed{csor}{cN82c}{c30}{cN99c}\eed{csor}{cN99c}{cLH1}{cLH2}\eed{csor}{cLH1}{c31}{c32}
\foreach \i in {33,...,39}{\ed{csor}{cLH2}{c\i}}
\eed{cmur}{cMur}{cDHA}{cSSTS}\eed{cmur}{cDHA}{c40}{cHA}\eed{cmur}{cHA}{c41}{c42}
\eed{cmur}{cSSTS}{cSST}{cSDS}\eed{cmur}{cSST}{c43}{cST}\eed{cmur}{cST}{c44}{c45}\eed{cmur}{cSDS}{c46}{cDS}\eed{cmur}{cDS}{c47}{c48}
\ed{ctal}{cN100iv}{c49}\ed{blk}{cN100iv}{cN90}
\ed{carv}{cN90}{cArv}\ed{csig}{cN90}{cSig}
\eed{carv}{cArv}{c50}{cN98}\eed{carv}{cN98}{c51}{cPT}\eed{carv}{cPT}{c52}{c53}
\ed{cneo}{cSig}{cN69c}\ed{csig}{cSig}{cN100s}
\eed{cneo}{cN69c}{c54}{cEM}\eed{cneo}{cEM}{c55}{c56}
\eed{csig}{cN100s}{c57}{cN99s}\eed{csig}{cN99s}{c58}{cN81}\eed{csig}{cN81}{c59}{cLR}\eed{csig}{cLR}{c60}{c61}
\end{scope}
% support C
\scc{118.5}{1487.7}{69}
\scc{163.2}{1504.4}{60}
\scc{94.4}{1586.5}{100}
\scc{246.6}{1626.5}{100}
\scc{320.3}{1754}{94}
\scc{325.1}{1818}{87}
\scc{420.2}{1810.7}{85}
\scc{480.8}{1825.5}{95}
\scc{377.5}{1902}{82}
\scc{416.7}{1893.5}{73}
\scc{446.3}{1918}{61}
\scc{421.5}{1964.2}{93}
\scc{456}{1988.2}{93}
\scc{425}{2014.1}{85}
\scc{451.2}{2039}{82}
\scc{313.4}{2035.5}{99}
\scc{506.3}{2064.7}{99}
\scc{234.2}{2217.9}{99}
\scc{440.8}{2209.5}{100}
\scc{478.7}{2224.1}{100}
\scc{396}{2250}{100}
\scc{432.6}{2263.5}{86}
\scc{478.7}{2278}{85}
\scc{440.8}{2301.8}{93}
\scc{466.3}{2329.1}{89}
\scc{518}{2331}{100}
\scc{336.1}{2400.3}{100}
\scc{400.9}{2393}{100}
\scc{439.5}{2408.3}{98}
\scc{499.4}{2433.1}{100}
\scc{387.1}{2453.2}{90}
\scc{430.5}{2463}{69}
\scc{493.9}{2487.1}{100}
\scc{449.1}{2502.4}{100}
\scc{449.1}{2520.6}{100}
\scc{465}{2559}{99}
\scc{518}{2564.4}{81}
\scc{549.7}{2577.2}{82}
% clade bars C
\begin{scope}[line width=2pt]
\cbar{cchi}{855.5}{1476.6}{1506.2}{cladeC}{Vespertilionidae}{1493.8}
\cbar{csor}{855.5}{1514.7}{1524.7}{cladeC}{Soricidae}{1519.2}
\cbar{ctal}{855.5}{1532}{1543}{cladeC}{Talpidae}{1537.7}
\cbar{cchi}{855.5}{1550}{1560.6}{cladeC}{Nycteridae}{1555}
\cbar{cchi}{855.5}{1567.3}{1743}{cladeC}{Rhinolophinae}{1653.9}
\cbar{csor}{855.5}{1748.5}{1777.4}{cladeC}{Soricidae}{1763}
\cbar{csor}{812.8}{1784.8}{1850.2}{cladeC}{Soricidae}{1823}
\cbar{ctal}{812.8}{1857.7}{1886.1}{cladeC}{Talpidae}{1874.3}
\cbar{csor}{812.8}{1895.8}{2193.4}{cladeC}{Soricidae}{2031.5}
\cbar{blk}{919.5}{1784.8}{2193.4}{cladeC}{Soricomorpha}{1961}
\cbar{cmur}{919.5}{2200.7}{2357.6}{cladeC}{Murinae}{2279.5}
\cbar{ctal}{919.5}{2364.9}{2374.7}{cladeC}{Talpidae}{2370}
\cbar{carv}{919.5}{2382}{2445.9}{cladeC}{Arvicolinae}{2413.8}
\cbar{csig}{919.5}{2455}{2591.8}{cladeC}{Sigmodontinae}{2521}
\cbar{cneo}{810.7}{2455}{2501.3}{cladeC}{Neotominae}{2480.7}
\end{scope}
\rbar{1047}{1476.6}{1543.2}{1511}{II}
\rbar{1047}{1548.8}{1743}{1650}{V}
\rbar{1047}{1748.5}{1776.3}{1764}{I}
\rbar{1047}{1784.8}{2357.6}{2057}{III}
\rbar{1047}{2362.7}{2591.8}{2491}{IV}
\node[font=\fs{15},inner sep=0pt] (scC) at (74.5,2575) {0.1};
\coordinate (scC1) at (62,2585); \coordinate (scC2) at (86,2585);
\draw[line width=2pt] (scC1) -- (scC2);
\end{tikzpicture}
\end{document}
